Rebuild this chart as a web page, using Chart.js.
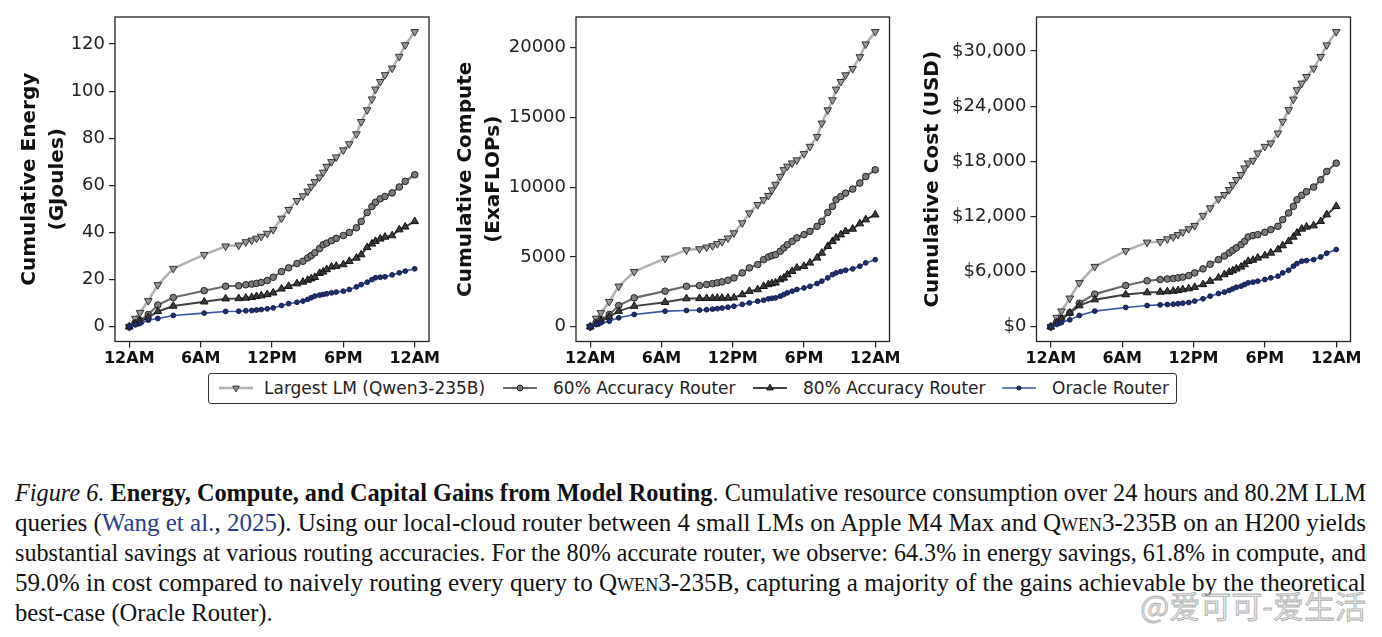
<!DOCTYPE html>
<html>
<head>
<meta charset="utf-8">
<script src="https://cdn.jsdelivr.net/npm/chart.js@4.4.1/dist/chart.umd.min.js"></script>
<style>
body { margin: 0; width: 1382px; height: 637px; background: #fff; position: relative; overflow: hidden; }
canvas { position: absolute; top: 0; }
#legend { position: absolute; left: 208px; top: 373px; width: 967px; height: 29px; border: 1px solid #333; border-radius: 3px;
  font-family: 'DejaVu Sans'; font-size: 17px; color: #222; }
.item { position: absolute; top: 0; height: 29px; }
.item svg { position: absolute; top: 4px; left: 0; }
.item span { position: absolute; top: 4px; white-space: nowrap; }
#caption { position: absolute; left: 15px; top: 478px; width: 1351px; font-family: 'Liberation Serif'; font-size: 25px; color: #111; }
.ln { height: 30px; line-height: 30px; white-space: nowrap; }
.ln > span { display: inline-block; transform-origin: 0 0; }
.cite { color: #2a3c8c; }
.sc { font-variant: small-caps; }
#mark { position: absolute; left: 1140px; top: 582px; font-family: 'Noto Sans CJK SC'; font-size: 31px; color: rgba(215,215,215,0.6);
  -webkit-text-stroke: 0.8px rgba(110,110,110,0.55); white-space: nowrap; }
</style>
</head>
<body>
<canvas id="c1" width="450" height="372" style="left:0px"></canvas>
<canvas id="c2" width="460" height="372" style="left:440px"></canvas>
<canvas id="c3" width="482" height="372" style="left:900px"></canvas>
<div id="legend"></div>
<div id="caption">
  <div class="ln"><span><i>Figure 6.</i> <b>Energy, Compute, and Capital Gains from Model Routing</b>. Cumulative resource consumption over 24 hours and 80.2M LLM</span></div>
  <div class="ln"><span>queries (<span class="cite">Wang et al.</span>, <span class="cite">2025</span>). Using our local-cloud router between 4 small LMs on Apple M4 Max and <span class="sc">Qwen</span>3-235B on an H200 yields</span></div>
  <div class="ln"><span>substantial savings at various routing accuracies. For the 80% accurate router, we observe: 64.3% in energy savings, 61.8% in compute, and</span></div>
  <div class="ln"><span>59.0% in cost compared to naively routing every query to <span class="sc">Qwen</span>3-235B, capturing a majority of the gains achievable by the theoretical</span></div>
  <div class="ln"><span>best-case (Oracle Router).</span></div>
</div>
<div id="mark">@爱可可-爱生活</div>
<script>
const hours = [0, 0.5, 0.9, 1.6, 2.4, 3.7, 6.3, 8.1, 9.2, 9.8, 10.3, 10.7, 11.1, 11.6, 12.1, 12.8, 13.4, 14.1, 14.6, 15.0,
    15.3, 15.6, 16.0, 16.3, 16.6, 17.0, 17.4, 18.0, 18.5, 19.1, 19.5, 20.0, 20.4, 20.7, 21.1, 21.5, 22.1, 22.7, 23.2, 24];
const hourTicks = [0, 6, 12, 18, 24];
const hourLabels = ['12AM', '6AM', '12PM', '6PM', '12AM'];
const seriesNames = ['Largest LM (Qwen3-235B)', '60% Accuracy Router', '80% Accuracy Router', 'Oracle Router'];

// energy, GJoules
const energyLargest = [0, 3.5, 6, 11, 17.8, 24.7, 30.6, 34.2, 34.6, 36, 36.7, 37.5, 38.3, 39.6, 41.2, 46, 49.7, 53.5, 55.5, 57.5,
    59.5, 61.5, 63.5, 65.5, 68, 70, 72, 75, 77.6, 81.8, 87, 92, 96.6, 100.8, 104, 106.9, 109.7, 114.7, 119.6, 125.2];
const energy60 = [0, 1.5, 2.6, 5.2, 9.2, 12.4, 15.3, 17.2, 17.4, 17.8, 18.1, 18.4, 18.8, 19.6, 21, 23.4, 25, 26.8, 27.8, 29.2,
    30.2, 31.4, 33.2, 34.8, 35.5, 36.5, 37.5, 38.7, 40, 42, 44.7, 48.5, 51, 52.8, 54.3, 55.3, 56.8, 59.3, 61.7, 64.5];
const energy80 = [0, 1.2, 2.2, 4, 6.5, 8.8, 10.6, 11.9, 12, 12.2, 12.5, 12.9, 13.2, 13.7, 14.4, 16.1, 17.2, 18.3, 19, 19.8,
    20.4, 21, 22.7, 23.3, 24.3, 25.4, 25.7, 26.4, 27.8, 29.2, 30.6, 33.7, 35.2, 36.3, 37.3, 38.1, 38.7, 41.2, 42.4, 44.7];
const energyOracle = [0, 0.8, 1.4, 2.8, 3.5, 4.8, 5.8, 6.5, 6.6, 6.8, 6.9, 7.1, 7.3, 7.6, 8, 9, 9.8, 10.4, 10.9, 11.6,
    12.3, 13, 13.4, 13.7, 14, 14.4, 14.7, 15.1, 15.8, 16.9, 17.9, 18.9, 20, 20.8, 21, 21.2, 22, 22.9, 23.6, 24.6];

// compute, ExaFLOPs
const computeLargest = [0, 600, 1000, 1800, 2900, 3950, 4900, 5500, 5580, 5700, 5800, 5950, 6100, 6350, 6720, 7440, 8150, 8750, 9100, 9400,
    9800, 10200, 10770, 11250, 11500, 11730, 11950, 12400, 12920, 13630, 14590, 15540, 16260, 17020, 17570, 18050, 18500, 19350, 20260, 21150];
const compute60 = [0, 300, 500, 880, 1520, 2070, 2550, 2900, 2950, 3030, 3090, 3150, 3220, 3330, 3500, 3860, 4220, 4460, 4810, 5000,
    5100, 5170, 5410, 5650, 5880, 6120, 6370, 6600, 6840, 7200, 7550, 8200, 8630, 9100, 9340, 9580, 9870, 10300, 10770, 11250];
const compute80 = [0, 200, 400, 700, 1120, 1480, 1760, 2020, 2030, 2040, 2045, 2050, 2055, 2065, 2080, 2310, 2550, 2670, 2900, 3030,
    3100, 3150, 3380, 3500, 3740, 3980, 4220, 4340, 4580, 4940, 5290, 5770, 6120, 6370, 6600, 6840, 7010, 7390, 7680, 8030];
const computeOracle = [0, 150, 280, 400, 640, 880, 1120, 1165, 1190, 1220, 1260, 1300, 1340, 1400, 1470, 1600, 1710, 1830, 1900, 2000,
    2040, 2070, 2190, 2310, 2430, 2550, 2670, 2780, 2900, 3100, 3270, 3500, 3740, 3860, 3960, 4050, 4150, 4340, 4580, 4810];

// cost, USD
const costLargest = [0, 1000, 1700, 3100, 4780, 6550, 8260, 9190, 9250, 9550, 9770, 10020, 10300, 10650, 11000, 12090, 12920, 13900, 14370, 14910,
    15450, 16000, 16540, 17260, 17800, 18090, 18890, 19610, 19980, 21060, 22330, 23600, 24750, 25770, 26490, 27210, 28120, 29390, 30650, 32100];
const cost60 = [0, 500, 900, 1520, 2560, 3550, 4490, 5000, 5140, 5200, 5250, 5320, 5400, 5570, 5860, 6300, 6800, 7300, 7700, 8030,
    8320, 8580, 8940, 9300, 9770, 9920, 10020, 10280, 10570, 10930, 11650, 12380, 13100, 13820, 14300, 14700, 15200, 16000, 16900, 17800];
const cost80 = [0, 400, 800, 1500, 2300, 2950, 3500, 3720, 3780, 3830, 3880, 3950, 4050, 4150, 4300, 4600, 4960, 5320, 5680, 5940,
    6100, 6300, 6510, 6770, 7130, 7250, 7490, 7740, 8030, 8400, 8830, 9300, 9770, 10200, 10640, 10860, 11000, 11470, 12200, 13100];
const costOracle = [0, 250, 450, 750, 1230, 1700, 2100, 2310, 2380, 2420, 2460, 2500, 2560, 2640, 2790, 3040, 3330, 3620, 3760, 3950,
    4120, 4300, 4420, 4600, 4780, 4850, 4960, 5140, 5320, 5500, 5860, 6150, 6590, 6880, 7130, 7200, 7300, 7600, 8000, 8400];

const energyTicks = [0, 20, 40, 60, 80, 100, 120];
const computeTicks = [0, 5000, 10000, 15000, 20000];
const costTicks = [0, 6000, 12000, 18000, 24000, 30000];

const styles = [
    {line: '#b3b3b3', fill: '#9a9a9a', edge: '#333', shape: 'triangle', rot: 180, r: 4.4, w: 2.6},
    {line: '#6b6b6b', fill: '#7a7a7a', edge: '#222', shape: 'circle', rot: 0, r: 3.3, w: 2.2},
    {line: '#3f3f3f', fill: '#3c3c3c', edge: '#111', shape: 'triangle', rot: 0, r: 4.4, w: 2},
    {line: '#3b56a6', fill: '#1f2f6e', edge: '#141f4d', shape: 'circle', rot: 0, r: 2.4, w: 1.6}
];

// box round the plot area, like matplotlib spines
const frame = {
    id: 'frame',
    afterDraw(chart) {
        const {ctx, chartArea: a} = chart;
        ctx.save();
        ctx.strokeStyle = '#222';
        ctx.lineWidth = 1.3;
        ctx.strokeRect(a.left, a.top, a.right - a.left, a.bottom - a.top);
        ctx.restore();
    }
};

function panel(id, series, yTicks, title, titlePad, axisW, padRight, fmt) {
    const top = Math.max(...series.map(s => Math.max(...s)));
    const m = top * 0.05;
    const tickGrid = {display: true, drawOnChartArea: false, drawTicks: true, tickLength: 6, color: '#222', lineWidth: 1.2};

    const datasets = series.map((vals, i) => ({
        label: seriesNames[i],
        data: hours.map((h, j) => ({x: h, y: vals[j]})),
        borderColor: styles[i].line,
        borderWidth: styles[i].w,
        pointStyle: styles[i].shape,
        pointRotation: styles[i].rot,
        pointRadius: styles[i].r,
        pointBackgroundColor: styles[i].fill,
        pointBorderColor: styles[i].edge,
        pointBorderWidth: 1,
        tension: 0,
        order: 4 - i
    }));

    const config = {
        type: 'line',
        data: {datasets: datasets},
        options: {
            responsive: false,
            animation: false,
            layout: {padding: {left: 0, top: 17, right: padRight, bottom: 0}},
            plugins: {legend: {display: false}, tooltip: {enabled: false}},
            scales: {
                x: {
                    type: 'linear',
                    min: -1.2,
                    max: 25.2,
                    afterBuildTicks: sc => { sc.ticks = hourTicks.map(v => ({value: v})); },
                    afterFit: sc => { sc.height = 30.5; sc.paddingLeft = 0; sc.paddingRight = 0; },
                    ticks: {
                        callback: v => hourLabels[hourTicks.indexOf(v)],
                        font: {family: 'DejaVu Sans', size: 16, weight: 'bold'},
                        color: '#111', padding: 2, maxRotation: 0, autoSkip: false
                    },
                    grid: tickGrid,
                    border: {display: false}
                },
                y: {
                    type: 'linear',
                    min: -m,
                    max: top + m,
                    afterBuildTicks: sc => { sc.ticks = yTicks.map(v => ({value: v})); },
                    afterFit: sc => { sc.width = axisW; sc.paddingTop = 0; sc.paddingBottom = 0; },
                    ticks: {
                        callback: fmt,
                        font: {family: 'DejaVu Sans', size: 18},
                        color: '#222', padding: 4
                    },
                    grid: tickGrid,
                    border: {display: false},
                    title: {
                        display: true,
                        text: title,
                        color: '#111',
                        font: {family: 'DejaVu Sans', size: 20, weight: 'bold', lineHeight: 1.38},
                        padding: {top: titlePad, bottom: 0}
                    }
                }
            }
        },
        plugins: [frame]
    };

    return new Chart(document.getElementById(id), config);
}

panel('c1', [energyLargest, energy60, energy80, energyOracle], energyTicks,
    ['Cumulative Energy', '(GJoules)'], 16, 115, 21, v => String(v));
panel('c2', [computeLargest, compute60, compute80, computeOracle], computeTicks,
    ['Cumulative Compute', '(ExaFLOPs)'], 12, 136, 10.5, v => String(v));
panel('c3', [costLargest, cost60, cost80, costOracle], costTicks,
    'Cumulative Cost (USD)', 19, 136.5, 31.5, v => '$' + v.toLocaleString('en-US'));

// legend, one entry per series
const legendHandleX = [10, 294, 544, 793];
const legendTextX = [55, 344, 594, 843];

function legendMarker(s) {
    if (s.shape === 'circle') {
        return `<circle cx="17" cy="10" r="${s.r - 0.4}" fill="${s.fill}" stroke="${s.edge}" stroke-width="1"/>`;
    }
    const r = s.r - 0.6;
    const d = s.rot ? 1 : -1;
    const pts = [[17, 10 + d * r], [17 - r * 0.866, 10 - d * r / 2], [17 + r * 0.866, 10 - d * r / 2]];
    return `<polygon points="${pts.map(p => p.join(',')).join(' ')}" fill="${s.fill}" stroke="${s.edge}" stroke-width="1"/>`;
}

const legend = document.getElementById('legend');
seriesNames.forEach((name, i) => {
    const s = styles[i];
    const item = document.createElement('div');
    item.className = 'item';
    item.style.left = legendHandleX[i] + 'px';
    item.innerHTML = `<svg width="34" height="20"><line x1="0" y1="10" x2="34" y2="10" stroke="${s.line}" stroke-width="${s.w}"/>${legendMarker(s)}</svg>` +
        `<span style="left:${legendTextX[i] - legendHandleX[i]}px">${name}</span>`;
    legend.appendChild(item);
});

// stretch caption lines to the full column width
const lines = Array.from(document.querySelectorAll('.ln > span'));
const ks = [];
lines.slice(0, 4).forEach(sp => {
    const k = 1351 / sp.getBoundingClientRect().width;
    ks.push(k);
    sp.style.transform = `scaleX(${k})`;
});
const kAvg = ks.reduce((a, b) => a + b, 0) / ks.length;
lines[4].style.transform = `scaleX(${kAvg})`;
</script>
</body>
</html>
